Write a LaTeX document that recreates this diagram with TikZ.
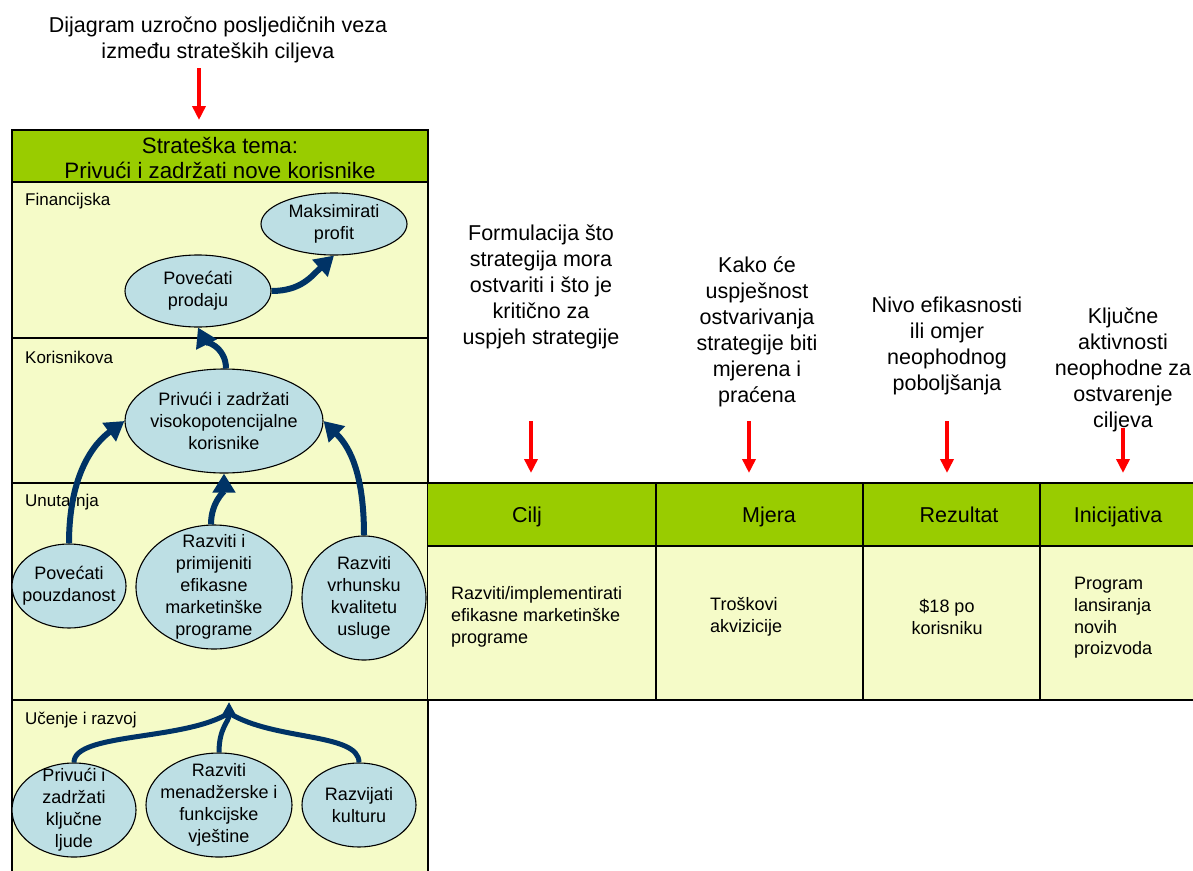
\documentclass[tikz,border=0pt]{standalone}
\usepackage{fontspec}
\setmainfont{Liberation Sans}
\usetikzlibrary{shapes.geometric,arrows.meta}
\definecolor{hdrgreen}{HTML}{99CC00}
\definecolor{paleyel}{HTML}{F5FBC8}
\definecolor{ellblue}{HTML}{BDDFE4}
\definecolor{navyblue}{HTML}{003366}
\definecolor{redarr}{HTML}{FF0000}
\begin{document}
\begin{tikzpicture}[x=1pt,y=-1pt,
 ell/.style={ellipse, draw=black, line width=1.1pt, fill=ellblue, inner sep=0pt},
 elltext/.style={inner sep=0pt, align=center, font=\fontsize{18}{22}\selectfont},
 bandlabel/.style={anchor=west, inner sep=0pt, font=\fontsize{17}{20}\selectfont},
 bigtext/.style={align=center, inner sep=0pt, font=\fontsize{21.5}{26}\selectfont},
 colhead/.style={inner sep=0pt, anchor=base, font=\fontsize{21.5}{25}\selectfont},
 celltext/.style={inner sep=0pt, align=left, font=\fontsize{18}{21.7}\selectfont},
 causal/.style={draw=navyblue, line width=6pt, -{Triangle[width=22pt,length=19pt]}},
 learnline/.style={draw=navyblue, line width=5pt},
 redarrow/.style={draw=redarr, line width=4pt, -{Triangle[width=13pt,length=14pt]}},
 rule/.style={draw=black, line width=1.1pt}]
\useasboundingbox (0,0) rectangle (1193,870);

% left panel
\fill[paleyel] (12,130) rectangle (428,875);
\fill[hdrgreen] (12,130) rectangle (428,182);
\draw[rule] (12,875) -- (12,130) -- (428,130) -- (428,875);
\foreach \yy in {182,338,483,700} \draw[rule] (12,\yy) -- (428,\yy);

% table
\fill[hdrgreen] (428,483) rectangle (1195,546);
\fill[paleyel] (428,546) rectangle (1195,700);
\foreach \yy in {483,546,700} \draw[rule] (428,\yy) -- (1195,\yy);
\foreach \xx in {656,863,1040} \draw[rule] (\xx,483) -- (\xx,700);

% texts
\node[bigtext] (title) at (218,40) {Dijagram uzročno posljedičnih veza\\između strateških ciljeva};
\node[bigtext, font=\fontsize{22.3}{25}\selectfont] (theme) at (220,158) {Strateška tema:\\Privući i zadržati nove korisnike};

\node[bandlabel] (lfin) at (25,201) {Financijska};
\node[bandlabel] (lkor) at (25,357) {Korisnikova};
\node[bandlabel] (lunu) at (25,502) {Unutarnja};
\node[bandlabel] (lucr) at (25,720) {Učenje i razvoj};

\node[bigtext] (cap1) at (541,287) {Formulacija što\\strategija mora\\ostvariti i što je\\kritično za\\uspjeh strategije};
\node[bigtext] (cap2) at (757,332) {Kako će\\uspješnost\\ostvarivanja\\strategije biti\\mjerena i\\praćena};
\node[bigtext] (cap3) at (947,346) {Nivo efikasnosti\\ili omjer\\neophodnog\\poboljšanja};
\node[bigtext] (cap4) at (1123,370) {Ključne\\aktivnosti\\neophodne za\\ostvarenje\\ciljeva};

\node[colhead] (h1) at (527,522) {Cilj};
\node[colhead] (h2) at (769,522) {Mjera};
\node[colhead] (h3) at (959,522) {Rezultat};
\node[colhead] (h4) at (1118,522) {Inicijativa};

\node[celltext, anchor=west] (c1) at (451,617) {Razviti/implementirati\\efikasne marketinške\\programe};
\node[celltext, anchor=west] (c2) at (710,617) {Troškovi\\akvizicije};
\node[celltext, align=center] (c3) at (947,617) {\$18 po\\korisniku};
\node[celltext, anchor=west] (c4) at (1074,618) {Program\\lansiranja\\novih\\proizvoda};

% ellipses
\node[ell, minimum width=146pt, minimum height=62pt] (profit) at (334,224) {};
\node[elltext] at (profit) {Maksimirati\\profit};
\node[ell, minimum width=146pt, minimum height=72pt] (prodaja) at (198,291) {};
\node[elltext] at (prodaja) {Povećati\\prodaju};
\node[ell, minimum width=198pt, minimum height=104pt] (privuci) at (224,421) {};
\node[elltext] at (privuci) {Privući i zadržati\\visokopotencijalne\\korisnike};
\node[ell, minimum width=114pt, minimum height=84pt] (pouzdanost) at (69,586) {};
\node[elltext] at (pouzdanost) {Povećati\\pouzdanost};
\node[ell, minimum width=156pt, minimum height=124pt] (primijeniti) at (214,587) {};
\node[elltext] at (primijeniti) {Razviti i\\primijeniti\\efikasne\\marketinške\\programe};
\node[ell, minimum width=124pt, minimum height=124pt] (vrhunsku) at (364,598) {};
\node[elltext] at (vrhunsku) {Razviti\\vrhunsku\\kvalitetu\\usluge};
\node[ell, minimum width=124pt, minimum height=94pt] (ljude) at (74,810) {};
\node[elltext] at (ljude) {Privući i\\zadržati\\ključne\\ljude};
\node[ell, minimum width=146pt, minimum height=104pt] (menadz) at (219,805) {};
\node[elltext] at (menadz) {Razviti\\menadžerske i\\funkcijske\\vještine};
\node[ell, minimum width=114pt, minimum height=84pt] (kulturu) at (359,805) {};
\node[elltext] at (kulturu) {Razvijati\\kulturu};

% causal arrows
\draw[causal] (prodaja.east) .. controls +(30,0) and +(-22,20) .. (profit.south);
\draw[causal] ([xshift=2pt]privuci.north) .. controls +(0,-22) and +(6,12) .. (prodaja.south);
\draw[causal] (pouzdanost.north) .. controls +(0,-70) and +(-30,22) .. (privuci.west);
\draw[causal] ([xshift=-3pt]primijeniti.north) .. controls +(0,-22) and +(0,18) .. (privuci.south);
\draw[causal] (vrhunsku.north) .. controls +(0,-70) and +(22,22) .. (privuci.east);

% learning arrows
\coordinate (merge) at (229,702);
\coordinate (join) at (229,713);
\draw[learnline] (ljude.north) .. controls +(0,-30) and +(-45,28) .. (join);
\draw[learnline] (kulturu.north) .. controls +(0,-30) and +(45,28) .. (join);
\draw[learnline, -{Triangle[width=14pt,length=14pt]}] (menadz.north) .. controls +(0,-25) and +(0,20) .. (merge);

% red arrows
\coordinate (r0a) at (199,68); \coordinate (r0b) at (199,120);
\coordinate (r1a) at (531,421); \coordinate (r1b) at (531,473);
\coordinate (r2a) at (749,421); \coordinate (r2b) at (749,473);
\coordinate (r3a) at (947,421); \coordinate (r3b) at (947,473);
\coordinate (r4a) at (1123,428); \coordinate (r4b) at (1123,473);
\draw[redarrow] (r0a) -- (r0b);
\draw[redarrow] (r1a) -- (r1b);
\draw[redarrow] (r2a) -- (r2b);
\draw[redarrow] (r3a) -- (r3b);
\draw[redarrow] (r4a) -- (r4b);
\end{tikzpicture}
\end{document}
